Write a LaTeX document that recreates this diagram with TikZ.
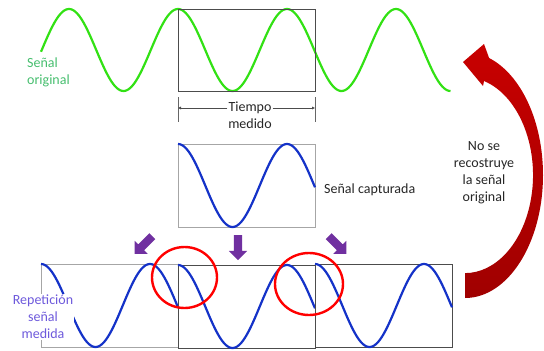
\documentclass[tikz,border=0pt]{standalone}
\usepackage{fontspec}
\setmainfont{Carlito}
\usetikzlibrary{arrows.meta,shapes.arrows}

\definecolor{wavegreen}{RGB}{50,225,20}
\definecolor{waveblue}{RGB}{20,50,200}
\definecolor{labelgreen}{RGB}{70,190,110}
\definecolor{labelblue}{RGB}{110,90,220}
\definecolor{arrowpurple}{RGB}{112,48,160}
\definecolor{backred}{RGB}{200,0,0}
\definecolor{backreddark}{RGB}{160,0,0}

% one window of the measured signal: x start, x end, top
\newcommand{\repwave}[3]{%
  \draw[bluewave] plot[domain=#1:#2,samples=90] ({\x},{#3+41.5-41.5*cos(3.3028*(\x-#1))});}

\begin{document}
\begin{tikzpicture}[x=1pt,y=-1pt,>=Latex,
  font=\fontsize{14}{17}\selectfont,
  boxframe/.style={draw=black!70,line width=0.8pt},
  lightframe/.style={draw=black!35,line width=0.8pt},
  bluewave/.style={waveblue,line width=2.2pt},
  blockarr/.style={single arrow,fill=arrowpurple,minimum height=25pt,
    single arrow head extend=5pt,inner xsep=0pt,inner ysep=4pt},
  lossring/.style={red,line width=2.4pt},
  txt/.style={text=black!85,align=center,inner sep=1pt}]
\useasboundingbox (0,0) rectangle (544,351);

% original signal
\draw[wavegreen,line width=2.2pt] plot[domain=41:450.5,samples=250] ({\x},{50-41*cos(3.3028*(\x-178))});
\draw[boxframe] (178,9) rectangle (315,91);
\node[anchor=west,align=left,text=labelgreen,inner sep=1pt] (orig) at (26,72) {Señal\\original};

% measured time
\coordinate (dimL) at (178,108);
\coordinate (dimR) at (315,108);
\draw[black!60] (178,97) -- (178,122) (315,97) -- (315,122);
\node[txt] (tiempo) at (250,108) {Tiempo};
\node[txt] (medido) at (250,124) {medido};
\draw[->,black!70,>={Latex[length=3pt,width=3pt]}] (tiempo.west) -- (dimL);
\draw[->,black!70,>={Latex[length=3pt,width=3pt]}] (tiempo.east) -- (dimR);

% captured signal
\draw[lightframe] (178,144) rectangle (315,227);
\repwave{178}{315}{144}
\node[txt,anchor=west] (capt) at (323,190) {Señal capturada};

% repeated windows
\draw[lightframe] (41,264) rectangle (178,347);
\repwave{41}{178}{264}
\draw[boxframe] (178,265) rectangle (315,348);
\repwave{178}{315}{265}
\draw[boxframe] (315,264) rectangle (452,347);
\repwave{315}{452}{264}
\node[txt,text=labelblue,fill=white] (rep) at (43,317) {Repetición\\señal\\medida};

\node[blockarr,rotate=225] (arrL) at (145,243.5) {};
\node[blockarr,rotate=270] (arrM) at (238,245.5) {};
\node[blockarr,rotate=315] (arrR) at (336,243.5) {};

\draw[lossring] (184.5,277.5) ellipse [x radius=32.5,y radius=30.5];
\draw[lossring] (309,284) ellipse [x radius=34,y radius=31];

% curved arrow back to the top
\shade[top color=backred,bottom color=backreddark]
  (465,298) arc[start angle=90,end angle=-72,x radius=78,y radius=123]
  -- (484,44) -- (463,62) -- (483,86)
  -- (484,81) arc[start angle=-73.8,end angle=90,x radius=68,y radius=98] -- cycle;
\node[txt] (norec) at (484,172.5) {No se\\recostruye\\la señal\\original};
\end{tikzpicture}
\end{document}
